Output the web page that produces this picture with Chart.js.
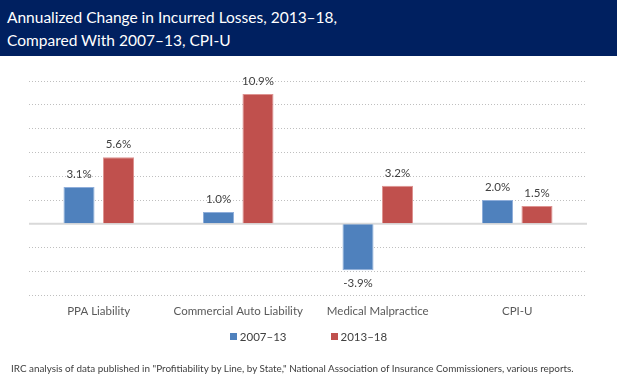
<!DOCTYPE html>
<html>
<head>
<meta charset="utf-8">
<script src="https://cdn.jsdelivr.net/npm/chart.js@4"></script>
<style>
  html, body { margin: 0; padding: 0; background: #fff; }
  body { width: 617px; height: 380px; position: relative; overflow: hidden; font-family: Lato, "Open Sans", sans-serif; }
  #banner { position: absolute; left: 0; top: 0; width: 617px; height: 56px; background: #002060; z-index: 2; }
  #title { position: absolute; left: 7px; top: 6px; color: #fff; font-size: 15.5px; line-height: 23px; white-space: nowrap; }
  #wrap { position: absolute; left: 0; top: 0; width: 617px; height: 380px; }
  #legend { position: absolute; left: 0; top: 328px; width: 617px; height: 16px; display: flex; justify-content: center; align-items: center; font-size: 11.5px; color: #404040; padding-left: 0; z-index: 2; }
  .item { display: flex; align-items: center; margin: 0 22px; }
  .sw { width: 7px; height: 7px; margin-right: 3px; }
  #foot { position: absolute; left: 11px; top: 362px; font-size: 9.9px; color: #404040; white-space: nowrap; z-index: 2; }
</style>
</head>
<body>
<div id="banner"><div id="title">Annualized Change in Incurred Losses, 2013–18,<br>Compared With 2007–13, CPI-U</div></div>
<div id="wrap"><canvas id="c" width="617" height="380"></canvas></div>
<div id="legend"></div>
<div id="foot">IRC analysis of data published in "Profitiability by Line, by State," National Association of Insurance Commissioners, various reports.</div>
<script>
const categories = ["PPA Liability", "Commercial Auto Liability", "Medical Malpractice", "CPI-U"];
const seriesNames = ["2007–13", "2013–18"];
const values2007_13 = [3.1, 1.0, -3.9, 2.0];
const values2013_18 = [5.6, 10.9, 3.2, 1.5];
const yMin = -6, yMax = 12, yStep = 2;
const colors = ["#4F81BD", "#C0504D"];
const borderColors = ["#8FAEDA", "#DE9391"];

const FONT = "Lato, 'Open Sans', sans-serif";

const zeroLine = {
  id: 'zeroLine',
  beforeDatasetsDraw(chart) {
    const y = chart.scales.y.getPixelForValue(0);
    const {left, right} = chart.chartArea;
    const ctx = chart.ctx;
    ctx.save();
    ctx.strokeStyle = '#D9D9D9';
    ctx.lineWidth = 2;
    ctx.beginPath();
    ctx.moveTo(left, y);
    ctx.lineTo(right, y);
    ctx.stroke();
    ctx.restore();
  }
};

const valueLabels = {
  id: 'valueLabels',
  afterDatasetsDraw(chart) {
    const ctx = chart.ctx;
    ctx.save();
    ctx.font = "11.5px " + FONT;
    ctx.fillStyle = '#404040';
    ctx.textAlign = 'center';
    ctx.textBaseline = 'middle';
    chart.data.datasets.forEach((ds, di) => {
      const meta = chart.getDatasetMeta(di);
      meta.data.forEach((bar, i) => {
        const v = ds.data[i];
        const y = v >= 0 ? bar.y - 12.5 : bar.y + 13.5;
        ctx.fillText(v.toFixed(1) + '%', bar.x, y);
      });
    });
    ctx.restore();
  }
};

const chart = new Chart(document.getElementById('c'), {
  type: 'bar',
  data: {
    labels: categories,
    datasets: [
      { label: seriesNames[0], data: values2007_13, backgroundColor: colors[0], borderColor: borderColors[0], borderWidth: 1 },
      { label: seriesNames[1], data: values2013_18, backgroundColor: colors[1], borderColor: borderColors[1], borderWidth: 1 }
    ]
  },
  options: {
    responsive: false,
    animation: false,
    devicePixelRatio: 1,
    datasets: { bar: { categoryPercentage: 0.566, barPercentage: 0.787 } },
    layout: { padding: { left: 29, right: 30, top: 81, bottom: 53 } },
    plugins: { legend: { display: false }, tooltip: { enabled: false } },
    scales: {
      x: {
        grid: { display: false, drawTicks: false },
        border: { display: false },
        ticks: { color: '#595959', font: { family: FONT, size: 11.5 }, padding: 9, maxRotation: 0 }
      },
      y: {
        min: yMin, max: yMax,
        ticks: { display: false, stepSize: yStep },
        grid: {
          drawTicks: false,
          color: ctx => ctx.tick && ctx.tick.value === 0 ? 'rgba(0,0,0,0)' : '#BFBFBF',
          lineWidth: 1
        },
        border: { display: false, dash: [1, 2] }
      }
    }
  },
  plugins: [zeroLine, valueLabels]
});

const legend = document.getElementById('legend');
chart.data.datasets.forEach(ds => {
  const it = document.createElement('div');
  it.className = 'item';
  const sw = document.createElement('div');
  sw.className = 'sw';
  sw.style.background = ds.backgroundColor;
  const tx = document.createElement('span');
  tx.textContent = ds.label;
  it.appendChild(sw); it.appendChild(tx);
  legend.appendChild(it);
});
</script>
</body>
</html>
